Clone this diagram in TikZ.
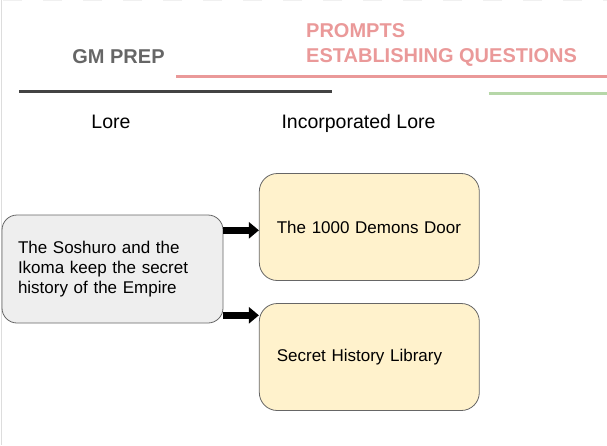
\documentclass[tikz,border=0pt]{standalone}
\usepackage{fontspec}
\setmainfont{Liberation Sans}
\usetikzlibrary{arrows.meta}
\definecolor{pinkc}{HTML}{EA9999}
\definecolor{greenc}{HTML}{B6D7A8}
\definecolor{darkc}{HTML}{434343}
\definecolor{headc}{HTML}{666666}
\definecolor{borderc}{HTML}{666666}
\definecolor{grayfill}{HTML}{EEEEEE}
\definecolor{yellowfill}{HTML}{FFF2CC}
\definecolor{faintc}{HTML}{DDDDDD}
\definecolor{fainterc}{HTML}{F0F0F0}
\tikzset{
  header/.style={font=\fontsize{20}{24}\selectfont\bfseries, anchor=base west, inner sep=0pt},
  colhead/.style={font=\fontsize{19.5}{23}\selectfont, anchor=base, inner sep=0pt, text=black},
  rule/.style={line width=3pt},
  lorebox/.style={draw=borderc, line width=0.8pt, rounded corners=15pt, fill=grayfill,
    minimum width=221pt, minimum height=108pt, inner xsep=16pt, text width=189pt, align=left,
    font=\fontsize{17}{20}\selectfont},
  incbox/.style={draw=borderc, line width=0.8pt, rounded corners=18pt, fill=yellowfill,
    minimum width=220pt, minimum height=107pt, inner xsep=17.4pt, text width=185pt, align=left,
    font=\fontsize{17}{20}\selectfont},
  bigarrow/.style={line width=7pt, -{Triangle[length=10pt,width=16pt]}}
}
\begin{document}
\begin{tikzpicture}[x=1pt,y=-1pt]
\useasboundingbox (0,0) rectangle (607,445);
% faint page edges
\draw[faintc, line width=1pt] (1,0) -- (1,445);
\draw[fainterc, line width=1pt, dash pattern=on 19pt off 21pt] (3,0.5) -- (607,0.5);
% headers
\node[header, text=headc, anchor=base] (gm) at (118.5,63.3) {GM PREP};
\node[header, text=pinkc] (pr) at (306,37.3) {PROMPTS};
\node[header, text=pinkc] (eq) at (306,62.3) {ESTABLISHING QUESTIONS};
% rules
\draw[rule, pinkc] (176,76.7) -- (607,76.7);
\draw[rule, darkc] (19,91.7) -- (332,91.7);
\draw[rule, greenc] (488.6,93) -- (607,93);
% column heads
\node[colhead] (lorehead) at (111,128) {Lore};
\node[colhead] (inchead) at (358.5,128) {Incorporated Lore};
% boxes
\node[lorebox] (lore) at (112.5,269) {The Soshuro and the\\Ikoma keep the secret\\history of the Empire};
\node[incbox] (d1) at (369.3,227) {The 1000 Demons Door};
\node[incbox, minimum height=107pt] (d2) at (369.3,357) {Secret History Library};
% arrows
\coordinate (ya) at (0,230.3);
\coordinate (yb) at (0,315.3);
\draw[bigarrow] (lore.east |- ya) -- (d1.west |- ya);
\draw[bigarrow] (lore.east |- yb) -- (d2.west |- yb);
\end{tikzpicture}
\end{document}
